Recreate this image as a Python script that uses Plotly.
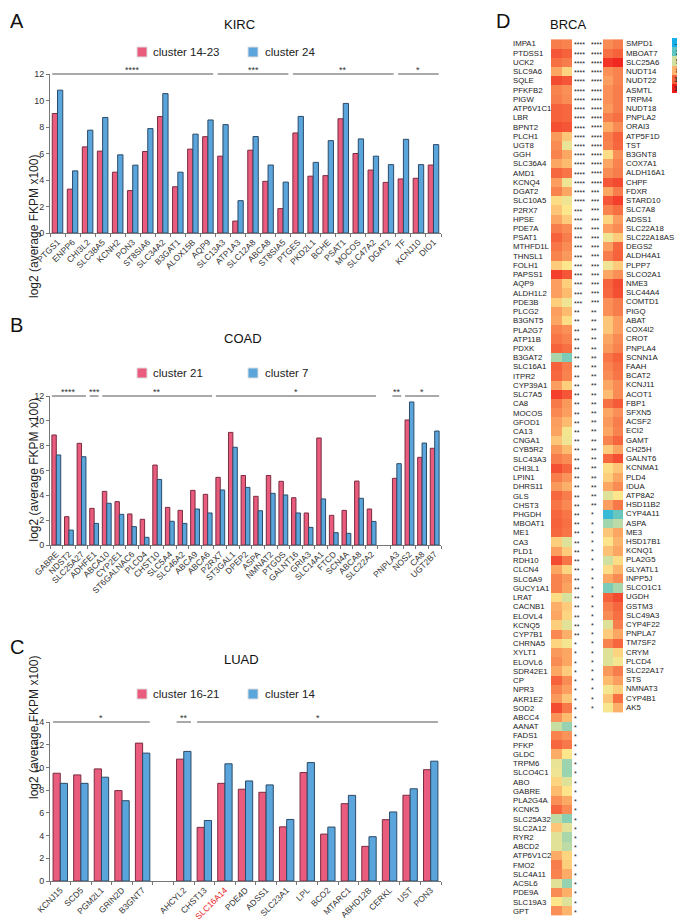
import plotly.graph_objects as go

W, H = 685, 920
OX, OY = 8, 8  # the page body adds an 8px margin around the figure
FONT = "Arial, Liberation Sans, sans-serif"
PINK, PINK_EDGE = "#e95c7d", "#7a2c40"
BLUE, BLUE_EDGE = "#5aa6dc", "#2c4a68"

# ---------------- Panel A : KIRC ----------------
a_genes = ["PTGS1", "ENPP6", "CHI3L2", "SLC38A5", "KCNH2", "PON3", "ST8SIA6", "SLC34A2", "B3GAT1",
           "ALOX15B", "AQP9", "SLC13A3", "ATP1A3", "SLC12A8", "ABCA8", "ST8SIA5", "PTGES", "PKD2L1",
           "BCHE", "PSAT1", "MOCOS", "SLC47A2", "DGAT2", "TF", "KCNJ10", "DIO1"]
a_pink = [9.02, 3.31, 6.5, 6.18, 4.59, 3.2, 6.15, 8.79, 3.49, 6.33, 7.27, 5.8, 0.9, 6.25, 3.9, 1.84,
          7.55, 4.29, 4.33, 8.62, 6.0, 4.75, 3.82, 4.08, 4.13, 5.13]
a_blue = [10.78, 4.69, 7.76, 8.72, 5.9, 5.12, 7.88, 10.52, 4.59, 7.46, 8.53, 8.18, 2.44, 7.28, 5.13,
          3.84, 8.8, 5.33, 6.97, 9.78, 7.1, 5.8, 5.16, 7.07, 5.16, 6.67]
a_sig = [("PTGS1", "AQP9", "****"), ("SLC13A3", "ST8SIA5", "***"), ("PTGES", "DGAT2", "**"),
         ("TF", "DIO1", "*")]
a_names = ["cluster 14-23", "cluster 24"]

# ---------------- Panel B : COAD ----------------
b_genes = ["GABRE", "NDST2", "SLC25A27", "ADHFE1", "ABCA10", "CYP2E1", "ST6GALNAC6", "PLCD4", "CHST10",
           "SLC5A4", "SLC46A2", "ABCA9", "ABCA6", "P2RX7", "ST3GAL1", "DPEP2", "ASPA", "NMNAT2", "PTGDS",
           "GALNT16", "GRIA3", "SLC14A1", "FTCD", "SCN4A", "ABCA8", "SLC22A2", " ",
           "PNPLA3", "NOS2", "CA8", "UGT2B7"]
b_pink = [8.86, 2.28, 8.19, 2.95, 4.32, 3.49, 2.5, 2.07, 6.44, 3.03, 2.79, 4.4, 4.08, 5.45, 9.07, 5.6,
          3.92, 5.6, 5.13, 3.81, 2.58, 8.62, 2.39, 2.79, 5.15, 2.9, None, 5.37, 10.07, 7.06, 7.79]
b_blue = [7.25, 1.2, 7.11, 1.74, 3.36, 2.47, 1.48, 0.62, 5.28, 1.91, 1.74, 2.9, 2.58, 4.43, 7.87, 4.64,
          2.76, 4.16, 4.03, 2.58, 1.42, 3.71, 0.99, 0.94, 3.76, 1.9, None, 6.55, 11.52, 8.21, 9.18]
b_sig = [("GABRE", "SLC25A27", "****"), ("ADHFE1", "ADHFE1", "***"), ("ABCA10", "ABCA6", "**"),
         ("P2RX7", "SLC22A2", "*"), ("PNPLA3", "PNPLA3", "**"), ("NOS2", "UGT2B7", "*")]
b_names = ["cluster 21", "cluster 7"]

# ---------------- Panel C : LUAD ----------------
c_genes = ["KCNJ15", "SCD5", "PGM2L1", "GRIN2D", "B3GNT7", " ", "AHCYL2", "CHST13", "SLC16A14", "PDE4D",
           "ADSS1", "SLC23A1", "LPL", "BCO2", "MTARC1", "ABHD12B", "CERKL", "UST", "PON3"]
c_pink = [9.49, 9.34, 9.87, 7.96, 12.14, None, 10.73, 4.72, 8.6, 8.08, 7.81, 4.77, 9.55, 4.13, 6.81,
          3.05, 5.4, 7.55, 9.8]
c_blue = [8.6, 8.6, 9.14, 7.07, 11.26, None, 11.41, 5.33, 10.32, 8.81, 8.46, 5.42, 10.43, 4.75, 7.54,
          3.9, 6.08, 8.12, 10.55]
c_sig = [("KCNJ15", "B3GNT7", "*"), ("AHCYL2", "AHCYL2", "**"), ("CHST13", "PON3", "*")]
c_names = ["cluster 16-21", "cluster 14"]
c_highlight = ["SLC16A14"]

# ---------------- Panel D : BRCA heatmap ----------------
left_genes = ["IMPA1", "PTDSS1", "UCK2", "SLC9A6", "SQLE", "PFKFB2", "PIGW", "ATP6V1C1", "LBR", "BPNT2",
              "PLCH1", "UGT8", "GGH", "SLC36A4", "AMD1", "KCNQ4", "DGAT2", "SLC10A5", "P2RX7", "HPSE",
              "PDE7A", "PSAT1", "MTHFD1L", "THNSL1", "FOLH1", "PAPSS1", "AQP9", "ALDH1L2", "PDE3B",
              "PLCG2", "B3GNT5", "PLA2G7", "ATP11B", "PDXK", "B3GAT2", "SLC16A1", "ITPR2", "CYP39A1",
              "SLC7A5", "CA8", "MOCOS", "GFOD1", "CA13", "CNGA1", "CYB5R2", "SLC43A3", "CHI3L1", "LPIN1",
              "DHRS11", "GLS", "CHST3", "PHGDH", "MBOAT1", "ME1", "CA3", "PLD1", "RDH10", "CLCN4",
              "SLC6A9", "GUCY1A1", "LRAT", "CACNB1", "ELOVL4", "KCNQ5", "CYP7B1", "CHRNA5", "XYLT1",
              "ELOVL6", "SDR42E1", "CP", "NPR3", "AKR1E2", "SOD2", "ABCC4", "AANAT", "FADS1", "PFKP",
              "GLDC", "TRPM6", "SLCO4C1", "ABO", "GABRE", "PLA2G4A", "KCNK5", "SLC25A32", "SLC2A12",
              "RYR2", "ABCD2", "ATP6V1C2", "FMO2", "SLC4A11", "ACSL6", "PDE9A", "SLC19A3", "GPT"]
left_c1 = [10.0, 11.5, 10.5, 8.5, 12.0, 9.8, 10.0, 11.0, 11.0, 11.8, 9.0, 9.5, 9.8, 8.5, 10.8, 8.8, 9.8,
           6.8, 7.5, 8.5, 10.0, 11.0, 10.3, 9.8, 7.3, 12.5, 8.8, 8.8, 7.2, 8.8, 8.5, 9.8, 10.3, 11.0, 4.0,
           11.0, 10.8, 8.8, 12.5, 10.2, 9.6, 8.8, 8.6, 7.5, 9.0, 10.0, 11.8, 10.0, 9.0, 10.8, 10.3, 10.8,
           11.0, 10.8, 7.2, 8.8, 12.0, 8.5, 9.8, 9.8, 6.8, 8.2, 8.5, 7.2, 9.6, 7.0, 9.0, 9.5, 8.5, 11.0,
           9.8, 9.0, 12.0, 9.2, 4.8, 9.8, 10.8, 8.3, 5.8, 6.0, 7.0, 7.8, 9.3, 10.8, 4.6, 7.5, 5.6, 5.6,
           8.3, 10.0, 9.8, 5.6, 9.5, 6.5, 9.3]
left_c2 = [9.8, 11.0, 10.0, 7.0, 11.5, 9.3, 9.5, 10.8, 10.8, 11.5, 7.5, 5.8, 8.5, 7.8, 10.3, 6.0, 8.5,
           6.0, 6.5, 7.3, 9.5, 10.0, 9.5, 9.0, 6.5, 11.5, 7.2, 7.8, 6.0, 7.8, 6.8, 9.3, 9.8, 10.5, 2.8,
           10.0, 9.8, 7.2, 11.5, 9.0, 8.8, 7.8, 6.2, 6.0, 7.8, 9.5, 10.8, 9.2, 8.2, 10.0, 9.6, 10.3,
           10.5, 10.3, 5.5, 7.3, 10.3, 7.0, 9.0, 8.6, 5.2, 7.3, 7.0, 5.6, 8.2, 6.2, 8.5, 8.5, 7.3, 9.5,
           8.8, 7.5, 10.2, 7.8, 3.5, 9.2, 10.2, 6.5, 3.7, 3.6, 5.5, 6.6, 8.4, 9.5, 3.2, 5.6, 4.0, 4.5,
           7.0, 7.2, 8.3, 3.5, 8.2, 5.5, 8.0]
left_sig = ["****"] * 18 + ["***"] * 11 + ["**"] * 36 + ["*"] * 30

right_genes = ["SMPD1", "MBOAT7", "SLC25A6", "NUDT14", "NUDT22", "ASMTL", "TRPM4", "NUDT18", "PNPLA2",
               "ORAI3", "ATP5F1D", "TST", "B3GNT8", "COX7A1", "ALDH16A1", "CHPF", "FDXR", "STARD10",
               "SLC7A8", "ADSS1", "SLC22A18", "SLC22A18AS", "DEGS2", "ALDH4A1", "PLPP7", "SLCO2A1", "NME3",
               "SLC44A4", "COMTD1", "PIGQ", "ABAT", "COX4I2", "CROT", "PNPLA4", "SCNN1A", "FAAH", "BCAT2",
               "KCNJ11", "ACOT1", "FBP1", "SFXN5", "ACSF2", "ECI2", "GAMT", "CH25H", "GALNT6", "KCNMA1",
               "PLD4", "IDUA", "ATP8A2", "HSD11B2", "CYP4A11", "ASPA", "ME3", "HSD17B1", "KCNQ1",
               "PLA2G5", "GLYATL1", "INPP5J", "SLCO1C1", "UGDH", "GSTM3", "SLC49A3", "CYP4F22", "PNPLA7",
               "TM7SF2", "CRYM", "PLCD4", "SLC22A17", "STS", "NMNAT3", "CYP4B1", "AK5"]
right_c1 = [9.5, 10.5, 13.0, 9.3, 8.8, 9.3, 9.3, 9.0, 10.0, 8.3, 10.0, 9.8, 6.8, 8.5, 9.5, 11.5, 8.5,
            11.5, 9.8, 7.0, 8.8, 6.0, 8.8, 10.0, 6.0, 8.5, 11.0, 10.8, 9.3, 9.3, 7.5, 7.5, 8.5, 9.0,
            10.3, 9.8, 9.5, 8.5, 7.8, 10.5, 8.5, 9.0, 8.5, 9.8, 7.3, 10.8, 6.8, 7.2, 8.5, 5.5, 8.8, 0.5,
            3.8, 7.5, 6.6, 7.6, 5.0, 6.8, 8.5, 2.8, 11.0, 10.0, 9.5, 5.5, 7.3, 9.8, 5.5, 5.5, 9.0, 7.8,
            6.2, 7.5, 6.3]
right_c2 = [10.0, 11.0, 13.5, 9.8, 9.8, 10.0, 10.0, 10.0, 10.5, 9.5, 11.0, 10.8, 9.3, 9.8, 10.0, 12.0,
            10.0, 12.5, 10.5, 8.8, 9.5, 7.3, 10.8, 11.0, 7.3, 9.3, 12.0, 11.8, 10.0, 10.0, 8.8, 8.8, 9.5,
            9.8, 11.0, 10.5, 10.3, 9.5, 9.5, 11.3, 9.3, 10.0, 9.8, 10.8, 8.5, 11.8, 7.5, 8.5, 9.5, 6.5,
            10.2, 2.3, 4.5, 8.5, 8.0, 8.5, 6.8, 8.0, 9.5, 4.0, 12.0, 10.8, 10.5, 10.0, 8.5, 10.8, 7.0,
            6.2, 10.0, 8.8, 7.2, 10.5, 8.2]
right_sig = ["****"] * 16 + ["***"] * 13 + ["**"] * 22 + ["*"] * 22
scale_ticks = [-1, 2, 5, 8, 11, 14]

HEAT_CS = [[0.0, "#14aee8"], [0.2, "#5cc4c2"], [0.4, "#cfe0a0"], [0.5, "#fde68c"],
           [0.6, "#fdb46c"], [0.8, "#f5623c"], [1.0, "#f01c1c"]]


def px(x):
    return (x - OX) / W


def py(y):
    return 1 - (y - OY) / H


fig = go.Figure()
annotations = []
shapes = []

X_DOM = [px(50), px(441)]
panels = [
    dict(ax="", genes=a_genes, pink=a_pink, blue=a_blue, sig=a_sig, names=a_names, top=74, bot=233,
         ymax=12, letter="A", letter_y=None, title="KIRC", title_y=25, leg_y=52),
    dict(ax="2", genes=b_genes, pink=b_pink, blue=b_blue, sig=b_sig, names=b_names, top=396, bot=545,
         ymax=12, letter="B", letter_y=325, title="COAD", title_y=338, leg_y=373),
    dict(ax="3", genes=c_genes, pink=c_pink, blue=c_blue, sig=c_sig, names=c_names, top=722, bot=881,
         ymax=14, letter="C", letter_y=647, title="LUAD", title_y=659, leg_y=694),
]

layout_axes = {}
for p in panels:
    s = p["ax"]
    xa, ya = "x" + s, "y" + s
    fig.add_trace(go.Bar(x=p["genes"], y=p["pink"], name=p["names"][0], xaxis=xa, yaxis=ya,
                         marker=dict(color=PINK, line=dict(color=PINK_EDGE, width=1)), showlegend=False))
    fig.add_trace(go.Bar(x=p["genes"], y=p["blue"], name=p["names"][1], xaxis=xa, yaxis=ya,
                         marker=dict(color=BLUE, line=dict(color=BLUE_EDGE, width=1)), showlegend=False))
    ticktext = [('<span style="color:#e8201e">%s</span>' % g) if g in c_highlight else g
                for g in p["genes"]]
    layout_axes["xaxis" + s] = dict(
        domain=X_DOM, anchor=ya, type="category", categoryorder="array", categoryarray=p["genes"],
        range=[-0.5, len(p["genes"]) - 0.5], tickmode="array", tickvals=p["genes"], ticktext=ticktext,
        tickson="boundaries", ticks="outside", ticklen=3, tickcolor="#777", showline=True,
        linecolor="#777", linewidth=1, tickangle=-45, tickfont=dict(size=8.5, color="#333"),
        showgrid=False, zeroline=False, automargin=False)
    layout_axes["yaxis" + s] = dict(
        domain=[py(p["bot"]), py(p["top"])], anchor=xa, range=[0, p["ymax"]], dtick=2,
        ticks="outside", ticklen=3, tickcolor="#777", showline=True, linecolor="#777", linewidth=1,
        tickfont=dict(size=9, color="#333"), showgrid=False, zeroline=False, automargin=False)
    # significance lines
    for g0, g1, lab in p["sig"]:
        i0, i1 = p["genes"].index(g0), p["genes"].index(g1)
        shapes.append(dict(type="line", xref=xa, yref=ya + " domain", x0=i0 - 0.35, x1=i1 + 0.35,
                           y0=1, y1=1, line=dict(color="#555", width=1)))
        annotations.append(dict(text=lab, xref=xa, yref=ya + " domain", x=(i0 + i1) / 2, y=1,
                                yanchor="bottom", showarrow=False, yshift=-3,
                                font=dict(size=9, color="#333")))
    # y title
    annotations.append(dict(text="log2 (average FKPM x100)", xref="paper", yref="paper", x=px(25),
                            y=py((p["top"] + p["bot"]) / 2), textangle=-90, showarrow=False,
                            font=dict(size=12, color="#222")))
    # panel letter and title
    if p["letter_y"] is None:
        annotations.append(dict(text=p["letter"], xref="paper", yref="paper", x=px(OX), y=1,
                                xanchor="left", yanchor="top", showarrow=False,
                                font=dict(size=20, color="#111")))
    else:
        annotations.append(dict(text=p["letter"], xref="paper", yref="paper", x=px(OX),
                                y=py(p["letter_y"]), xanchor="left", yanchor="middle", showarrow=False,
                                font=dict(size=20, color="#111")))
    annotations.append(dict(text=p["title"], xref="paper", yref="paper", x=px(222), y=py(p["title_y"]),
                            yanchor="middle", showarrow=False, font=dict(size=13, color="#111")))
    # manual legend
    for k, (col, x0, xt) in enumerate([(PINK, 137, 151), (BLUE, 248, 263)]):
        shapes.append(dict(type="rect", xref="paper", yref="paper", x0=px(x0), x1=px(x0 + 10),
                           y0=py(p["leg_y"] + 5), y1=py(p["leg_y"] - 5), fillcolor=col,
                           line=dict(color="#dddddd", width=1)))
        annotations.append(dict(text=p["names"][k], xref="paper", yref="paper", x=px(xt),
                                y=py(p["leg_y"]), xanchor="left", yanchor="middle", showarrow=False,
                                font=dict(size=11.5, color="#222")))

# ---------------- heatmaps ----------------
ROW = 9.266
TOP = 37.5
fig.add_trace(go.Heatmap(z=[[a, b] for a, b in zip(left_c1, left_c2)], x=["c1", "c2"], y=left_genes,
                         xaxis="x4", yaxis="y4", colorscale=HEAT_CS, zmin=-1, zmax=14, showscale=False))
fig.add_trace(go.Heatmap(z=[[a, b] for a, b in zip(right_c1, right_c2)], x=["c1", "c2"], y=right_genes,
                         xaxis="x5", yaxis="y5", colorscale=HEAT_CS, zmin=-1, zmax=14, showscale=False))
fig.add_trace(go.Heatmap(z=[[v] for v in scale_ticks], x=["s"], y=[str(v) for v in scale_ticks],
                         text=[[str(v)] for v in scale_ticks], texttemplate="%{text}",
                         textfont=dict(size=8, color="#222"), xaxis="x6", yaxis="y6",
                         colorscale=HEAT_CS, zmin=-1, zmax=14, showscale=False))

hidden = dict(showticklabels=False, ticks="", showline=False, showgrid=False, zeroline=False,
              automargin=False)
layout_axes["xaxis4"] = dict(domain=[px(551), px(572)], anchor="y4", **hidden)
layout_axes["yaxis4"] = dict(domain=[py(TOP + ROW * len(left_genes)), py(TOP)], anchor="x4",
                             autorange="reversed", type="category", **hidden)
layout_axes["xaxis5"] = dict(domain=[px(603), px(623)], anchor="y5", **hidden)
layout_axes["yaxis5"] = dict(domain=[py(TOP + ROW * len(right_genes)), py(TOP)], anchor="x5",
                             autorange="reversed", type="category", **hidden)
layout_axes["xaxis6"] = dict(domain=[px(672), px(684)], anchor="y6", **hidden)
layout_axes["yaxis6"] = dict(domain=[py(93), py(38)], anchor="x6", autorange="reversed",
                             type="category", **hidden)

LBL = 7.8
for i, g in enumerate(left_genes):
    annotations.append(dict(text=g, xref="paper", yref="y4", x=px(511), y=i, xanchor="left",
                            yanchor="middle", showarrow=False, font=dict(size=LBL, color="#222")))
    annotations.append(dict(text=left_sig[i], xref="paper", yref="y4", x=px(572), y=i, xanchor="left",
                            yanchor="middle", showarrow=False, yshift=-1, font=dict(size=7, color="#222")))
for i, g in enumerate(right_genes):
    annotations.append(dict(text=g, xref="paper", yref="y5", x=px(624), y=i, xanchor="left",
                            yanchor="middle", showarrow=False, font=dict(size=LBL, color="#222")))
    annotations.append(dict(text=right_sig[i], xref="paper", yref="y5", x=px(589), y=i, xanchor="left",
                            yanchor="middle", showarrow=False, yshift=-1, font=dict(size=7, color="#222")))

annotations.append(dict(text="D", xref="paper", yref="paper", x=px(494), y=1, xanchor="left",
                        yanchor="top", showarrow=False, font=dict(size=20, color="#111")))
annotations.append(dict(text="BRCA", xref="paper", yref="paper", x=px(588), y=py(25), yanchor="middle",
                        showarrow=False, font=dict(size=13, color="#111")))

fig.update_layout(width=W, height=H, margin=dict(l=0, r=0, t=0, b=0, autoexpand=False),
                  paper_bgcolor="white", plot_bgcolor="white", barmode="group", bargap=0.3,
                  bargroupgap=0.0, font=dict(family=FONT), showlegend=False, annotations=annotations,
                  shapes=shapes, **layout_axes)

fig.write_html("out.html")
